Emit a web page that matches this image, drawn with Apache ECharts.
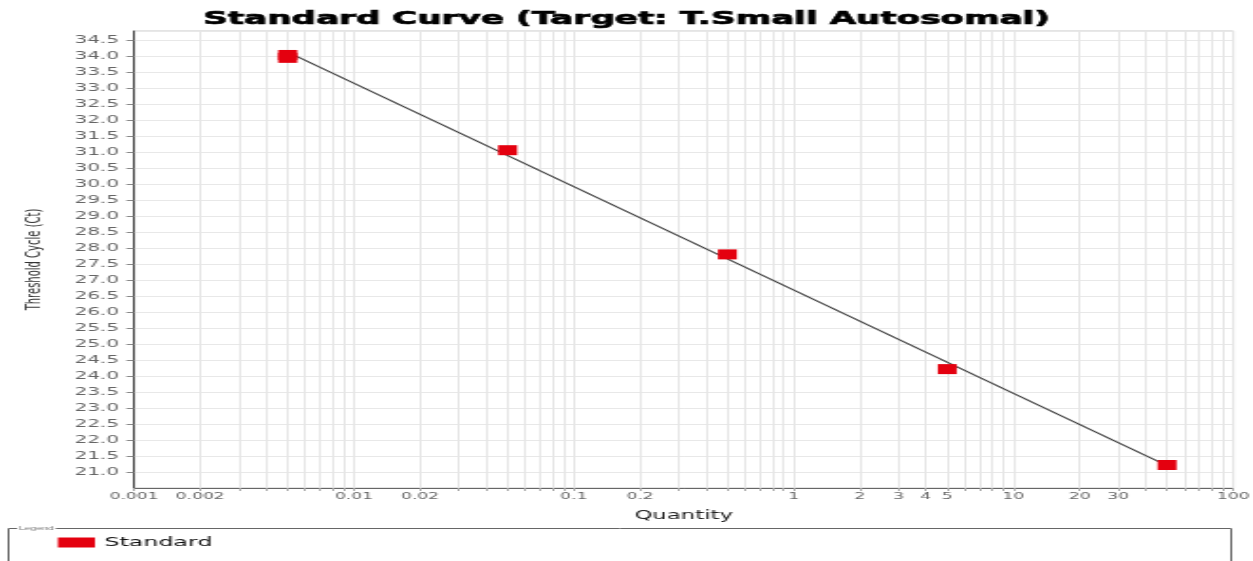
<!DOCTYPE html>
<html>
<head>
<meta charset="utf-8">
<script src="https://cdn.jsdelivr.net/npm/echarts@6/dist/echarts.min.js"></script>
<style>
  html, body { margin: 0; padding: 0; background: #fff; overflow: hidden; }
  /* the chart is laid out narrow and widened horizontally */
  #chart { width: 660px; height: 561px; transform: scaleX(1.8985); transform-origin: 0 0; }
</style>
</head>
<body>
<div id="chart"></div>
<script>
// Standard dilution series: quantity vs threshold cycle (Ct)
const quantities = [0.005, 0.005, 0.05, 0.5, 5, 50];
const ctValues = [34.05, 33.96, 31.07, 27.81, 24.22, 21.22];

// End points of the fitted standard curve
const fitQuantities = [0.005, 50];
const fitCt = [34.14, 21.2];

// Labelled quantities on the log axis
const xTickLabels = [0.001, 0.002, 0.01, 0.02, 0.1, 0.2, 1, 2, 3, 4, 5, 10, 20, 30, 100];

// Log grid lines: 1..9 times every decade
const xGridValues = [];
for (let n = -3; n <= 1; n++) {
  for (let k = 1; k <= 9; k++) {
    xGridValues.push(+(k * Math.pow(10, n)).toPrecision(3));
  }
}
xGridValues.push(100);

const chart = echarts.init(document.getElementById('chart'));

chart.setOption({
  animation: false,
  backgroundColor: '#fff',
  title: {
    text: 'Standard Curve (Target: T.Small Autosomal)',
    left: 'center',
    top: 10.5,
    padding: 0,
    textStyle: {
      fontFamily: 'DejaVu Sans',
      fontSize: 18,
      fontWeight: 'bold',
      color: '#000',
      textBorderColor: '#000',
      textBorderWidth: 0.7
    }
  },
  legend: {
    data: ['Standard'],
    left: 30.5,
    top: 536,
    padding: 0,
    itemWidth: 19.5,
    itemHeight: 10,
    icon: 'rect',
    textStyle: { fontFamily: 'DejaVu Sans', fontSize: 12.5, color: '#111' }
  },
  grid: {
    left: 70.6,
    right: 10.4,
    top: 31,
    bottom: 73,
    show: true,
    borderColor: '#c8c8c8',
    borderWidth: 1,
    containLabel: false,
    outerBoundsMode: 'none'
  },
  xAxis: {
    type: 'log',
    logBase: 10,
    min: 0.001,
    max: 100,
    name: 'Quantity',
    nameLocation: 'middle',
    nameGap: 22,
    nameTextStyle: { fontFamily: 'DejaVu Sans', fontSize: 12, color: '#222' },
    axisLine: { show: true, lineStyle: { color: '#666', width: 1 } },
    axisTick: { show: true, length: 3, customValues: xGridValues, lineStyle: { color: '#aaa' } },
    axisLabel: {
      customValues: xTickLabels,
      margin: 4,
      fontFamily: 'DejaVu Sans',
      fontSize: 9,
      color: '#666',
      formatter: v => String(+Number(v).toPrecision(6))
    },
    splitLine: { show: true, lineStyle: { color: '#e6e6e6', width: 1 } },
    minorTick: { show: false },
    minorSplitLine: { show: false }
  },
  yAxis: {
    type: 'value',
    min: 20.5,
    max: 34.8,
    interval: 0.5,
    name: 'Threshold Cycle (Ct)',
    nameLocation: 'middle',
    nameRotate: 90,
    nameGap: 47,
    nameTextStyle: { fontFamily: 'DejaVu Sans', fontSize: 10, color: '#333' },
    axisLine: { show: true, lineStyle: { color: '#444', width: 1 } },
    axisTick: { show: true, length: 4, lineStyle: { color: '#888' } },
    axisLabel: {
      margin: 8,
      fontFamily: 'DejaVu Sans',
      fontSize: 10.5,
      color: '#666',
      showMinLabel: false,
      showMaxLabel: false,
      formatter: v => Number(v).toFixed(1)
    },
    splitLine: { show: true, lineStyle: { color: '#e8e8e8', width: 1 } }
  },
  graphic: [
    {
      type: 'rect',
      silent: true,
      shape: { x: 4.5, y: 528.5, width: 644, height: 60 },
      style: { fill: 'none', stroke: '#666', lineWidth: 1 }
    },
    {
      type: 'text',
      silent: true,
      x: 9,
      y: 528.5,
      style: {
        text: 'Legend',
        fontFamily: 'Liberation Sans',
        fontSize: 5.5,
        fill: '#777',
        verticalAlign: 'middle',
        backgroundColor: '#fff',
        padding: [0, 1]
      }
    }
  ],
  series: [
    {
      type: 'line',
      silent: true,
      data: fitQuantities.map((q, i) => [q, fitCt[i]]),
      showSymbol: false,
      symbol: 'none',
      lineStyle: { color: '#404040', width: 1.2 },
      z: 2
    },
    {
      name: 'Standard',
      type: 'scatter',
      data: quantities.map((q, i) => [q, ctValues[i]]),
      symbol: 'rect',
      symbolSize: 10,
      itemStyle: { color: '#e4000f', opacity: 1 },
      z: 3
    }
  ]
});
</script>
</body>
</html>
